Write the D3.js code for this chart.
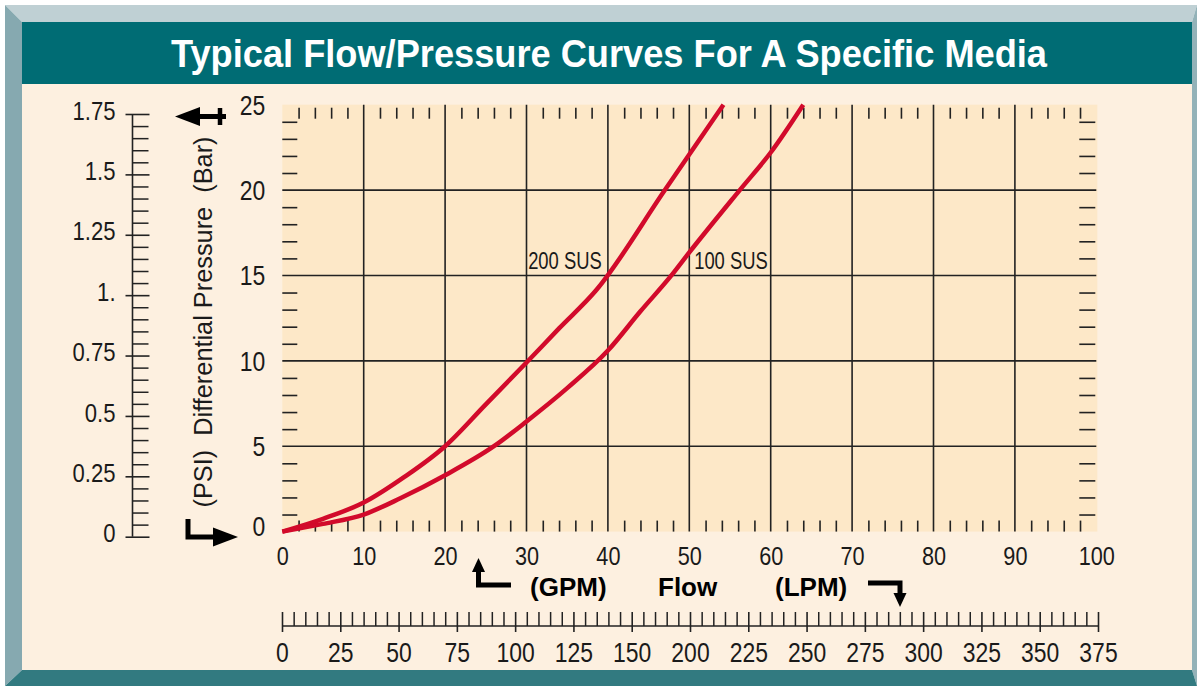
<!DOCTYPE html>
<html><head><meta charset="utf-8">
<script src="https://cdn.jsdelivr.net/npm/d3@7"></script>
<style>
html,body{margin:0;padding:0;background:#fff;}
svg{display:block;}
text{font-family:"Liberation Sans",Arial,Helvetica,sans-serif;}
</style></head><body>
<svg id="c" width="1197" height="686"></svg>
<script>
// ---- data ----
const titleText = "Typical Flow/Pressure Curves For A Specific Media";
const gpmTicks = [0,10,20,30,40,50,60,70,80,90,100];
const barTicks = [0,5,10,15,20,25];
const psiTicks = [0,0.25,0.5,0.75,1,1.25,1.5,1.75];
const psiLabels = ["0","0.25","0.5","0.75","1.","1.25","1.5","1.75"];
const lpmLabels = ["0","25","50","75","100","125","150","200","225","250","275","300","325","350","375"];
const seriesNames = ["200 SUS","100 SUS"];
const gpm200 = [0,5,10,15,20,25,30,34,38.5,47,54.2];
const bar200 = [0,0.75,1.7,3.2,5,7.45,9.9,11.9,14.1,20,25];
const gpm100 = [0,5,10,14.5,20,26,30,35,40,44,47.8,50,56.2,60,64];
const bar100 = [0,0.45,1.0,1.95,3.3,5,6.45,8.4,10.6,12.9,15,16.35,20,22.2,25];

const svg = d3.select("#c");
const C = {cream:"#fdf0e0", plot:"#fde8c8", teal:"#006c74", red:"#d20a2b", ink:"#1a1a1a"};
const SX = 0.85; // horizontal condensing of the narrow typeface

// ---- frame ----
svg.append("rect").attr("x",0).attr("y",0).attr("width",1197).attr("height",686).attr("fill","#fff");
svg.append("polygon").attr("points","5,5 1197,5 1192,22 22,22").attr("fill","#bfd0d4");
svg.append("polygon").attr("points","5,5 22,22 22,670 5,686").attr("fill","#86a9b0");
svg.append("polygon").attr("points","1192,22 1197,5 1197,686 1192,670").attr("fill","#93b2b8");
svg.append("polygon").attr("points","5,686 22,670 1192,670 1197,686").attr("fill","#327a80");
svg.append("rect").attr("x",22).attr("y",22).attr("width",1170).attr("height",62).attr("fill",C.teal);
svg.append("rect").attr("x",22).attr("y",84).attr("width",1170).attr("height",586).attr("fill",C.cream);
svg.append("text").attr("x",171).attr("y",67).text(titleText)
  .attr("fill","#fff").attr("font-weight","bold").attr("font-size",39)
  .attr("textLength",876).attr("lengthAdjust","spacingAndGlyphs");

// ---- scales ----
const L=282.3, R=1096.3, T=104.7, B=531.6;
const x = d3.scaleLinear().domain([0,100]).range([L,R]);
const y = d3.scaleLinear().domain([0,25]).range([B,T]);
const psi = d3.scaleLinear().domain([0,1.75]).range([536.7,114]);
const lpm = d3.scalePoint().domain(lpmLabels).range([282,1098]);
const lpmIdx = d3.scaleLinear().domain([0,lpmLabels.length-1]).range([282,1098]);

function condense(sel){
  sel.each(function(){
    const t = d3.select(this);
    const x0 = +t.attr("x") || 0;
    t.attr("x", x0/SX).attr("transform",`scale(${SX},1)`);
  });
}

svg.append("rect").attr("x",L).attr("y",T).attr("width",R-L+1).attr("height",B-T).attr("fill",C.plot);

// gridlines
const g = svg.append("g");
g.selectAll(".vx").data(gpmTicks.filter(d=>d>0&&d<100)).join("line")
  .attr("x1",d=>x(d)).attr("x2",d=>x(d)).attr("y1",T).attr("y2",B)
  .attr("stroke","#222").attr("stroke-width",1.6);
g.selectAll(".hy").data(barTicks.filter(d=>d>0&&d<25)).join("line")
  .attr("y1",d=>y(d)).attr("y2",d=>y(d)).attr("x1",L).attr("x2",R)
  .attr("stroke","#222").attr("stroke-width",1.6);

// minor ticks inside plot
const xMinor = d3.range(2,100,2).filter(d=>d%10!==0);
const yMinor = d3.range(1,25,1).filter(d=>d%5!==0);
function styleAx(sel){ sel.select(".domain").remove(); sel.selectAll("line").attr("stroke","#222").attr("stroke-width",1.6); sel.selectAll("text").remove(); }
svg.append("g").attr("transform",`translate(0,${T+3})`).call(d3.axisBottom(x).tickValues(xMinor).tickSize(11)).call(styleAx);
svg.append("g").attr("transform",`translate(0,${B})`).call(d3.axisTop(x).tickValues(xMinor).tickSize(11)).call(styleAx);
svg.append("g").attr("transform",`translate(${L},0)`).call(d3.axisRight(y).tickValues(yMinor).tickSize(15)).call(styleAx);
svg.append("g").attr("transform",`translate(${R-1},0)`).call(d3.axisLeft(y).tickValues(yMinor).tickSize(16)).call(styleAx);

// ---- curves ----
const line = d3.line().x(d=>x(d[0])).y(d=>y(d[1])).curve(d3.curveMonotoneX);
const curves = [d3.zip(gpm200,bar200), d3.zip(gpm100,bar100)];
svg.append("g").selectAll("path").data(curves).join("path")
  .attr("d",line).attr("fill","none").attr("stroke",C.red).attr("stroke-width",4.5)
  .attr("stroke-linejoin","round").attr("stroke-linecap","butt");

// series labels
const labelPos = [[30.2,15.35],[50.6,15.35]];
svg.append("g").selectAll("text").data(seriesNames).join("text")
  .attr("x",(d,i)=>x(labelPos[i][0])).attr("y",(d,i)=>y(labelPos[i][1]))
  .text(d=>d).attr("font-size",23).attr("fill",C.ink)
  .each(function(){ const t=d3.select(this); t.attr("x",+t.attr("x")/0.8).attr("transform","scale(0.8,1)"); });

// ---- Bar axis labels (left of plot) ----
const barAx = svg.append("g").attr("transform",`translate(${L},0)`)
  .call(d3.axisLeft(y).tickValues(barTicks).tickSize(0).tickPadding(17));
barAx.select(".domain").remove();
barAx.selectAll("text").attr("font-size",27).attr("fill",C.ink).attr("font-family",null)
  .attr("dy",d=>d===0?"0.15em":"0.35em").call(condense);

// ---- GPM axis labels ----
const gpmAx = svg.append("g").attr("transform",`translate(0,${B})`)
  .call(d3.axisBottom(x).tickValues(gpmTicks).tickSize(0).tickPadding(15));
gpmAx.select(".domain").remove();
gpmAx.selectAll("text").attr("font-size",25.5).attr("fill",C.ink).attr("font-family",null).call(condense);

// ---- PSI axis ----
const PX = 132.5;
const psiMinor = d3.range(0.05,1.75,0.05).filter(d=>Math.abs(d/0.25-Math.round(d/0.25))>0.01);
svg.append("g").attr("transform",`translate(${PX},0)`)
  .call(d3.axisRight(psi).tickValues(psiMinor).tickSize(16))
  .call(s=>{s.select(".domain").remove(); s.selectAll("text").remove(); s.selectAll("line").attr("stroke","#222").attr("stroke-width",1.5);});
const psiAx = svg.append("g").attr("transform",`translate(${PX},0)`)
  .call(d3.axisLeft(psi).tickValues(psiTicks).tickFormat((d,i)=>psiLabels[i]).tickSize(7).tickPadding(10));
psiAx.select(".domain").attr("stroke","#222").attr("stroke-width",1.6).attr("d",`M0,${psi(1.75)}V${psi(0)}`);
psiAx.selectAll(".tick line").attr("stroke","#222").attr("stroke-width",1.6).attr("x1",17);
psiAx.selectAll("text").attr("font-size",26).attr("fill",C.ink).attr("font-family",null)
  .attr("dy","0.2em").call(condense);

// rotated axis title
svg.append("text").attr("transform","translate(212,322) rotate(-90)")
  .attr("text-anchor","middle").attr("font-size",25).attr("fill",C.ink)
  .attr("textLength",371).attr("lengthAdjust","spacingAndGlyphs")
  .attr("xml:space","preserve").style("white-space","pre")
  .text("(PSI)  Differential Pressure  (Bar)");

// ---- LPM axis ----
const LY = 626;
svg.append("g").attr("transform",`translate(0,${LY})`)
  .call(d3.axisTop(lpmIdx).tickValues(d3.range(0,14,0.2).filter(d=>Math.abs(d-Math.round(d))>0.01)).tickSize(14))
  .call(s=>{s.select(".domain").remove(); s.selectAll("text").remove(); s.selectAll("line").attr("stroke","#222").attr("stroke-width",1.5);});
const lpmAx = svg.append("g").attr("transform",`translate(0,${LY})`)
  .call(d3.axisBottom(lpm).tickSize(6).tickPadding(11));
lpmAx.select(".domain").attr("d",`M${lpm.range()[0]},0H${lpm.range()[1]}`).attr("stroke","#222").attr("stroke-width",1.6);
lpmAx.selectAll(".tick line").attr("stroke","#222").attr("stroke-width",1.6).attr("y1",-14);
lpmAx.selectAll("text").attr("font-size",27).attr("fill",C.ink).attr("font-family",null).call(condense);

// ---- flow labels ----
const flow = [["(GPM)",530],["Flow",658],["(LPM)",775]];
svg.append("g").selectAll("text").data(flow).join("text")
  .attr("x",d=>d[1]).attr("y",596).text(d=>d[0])
  .attr("font-size",26).attr("font-weight","bold").attr("fill","#000");

// ---- arrows ----
const A = svg.append("g").attr("fill","#000").attr("stroke","#000");
function arrowPath(pts, w){ A.append("path").attr("d",d3.line()(pts)).attr("fill","none").attr("stroke-width",w).attr("stroke-linejoin","miter"); }
// top-left: left arrow with vertical bar
arrowPath([[196,116.5],[226,116.5]],5);
A.append("path").attr("stroke","none").attr("d","M175,116.5 L200,107 L200,126 Z");
arrowPath([[220,108],[220,125]],4.5);
// bottom-left: vertical bar then right arrow
arrowPath([[188,519],[188,537],[218,537]],5);
A.append("path").attr("stroke","none").attr("d","M238,537 L213,527.5 L213,546.5 Z");
// GPM arrow (up)
arrowPath([[511,585],[478.5,585],[478.5,570]],5);
A.append("path").attr("stroke","none").attr("d","M478.5,558 L472,572 L485,572 Z");
// LPM arrow (down)
arrowPath([[868,583],[900,583],[900,596]],5);
A.append("path").attr("stroke","none").attr("d","M900,607 L893.5,593 L906.5,593 Z");
</script>
</body></html>
